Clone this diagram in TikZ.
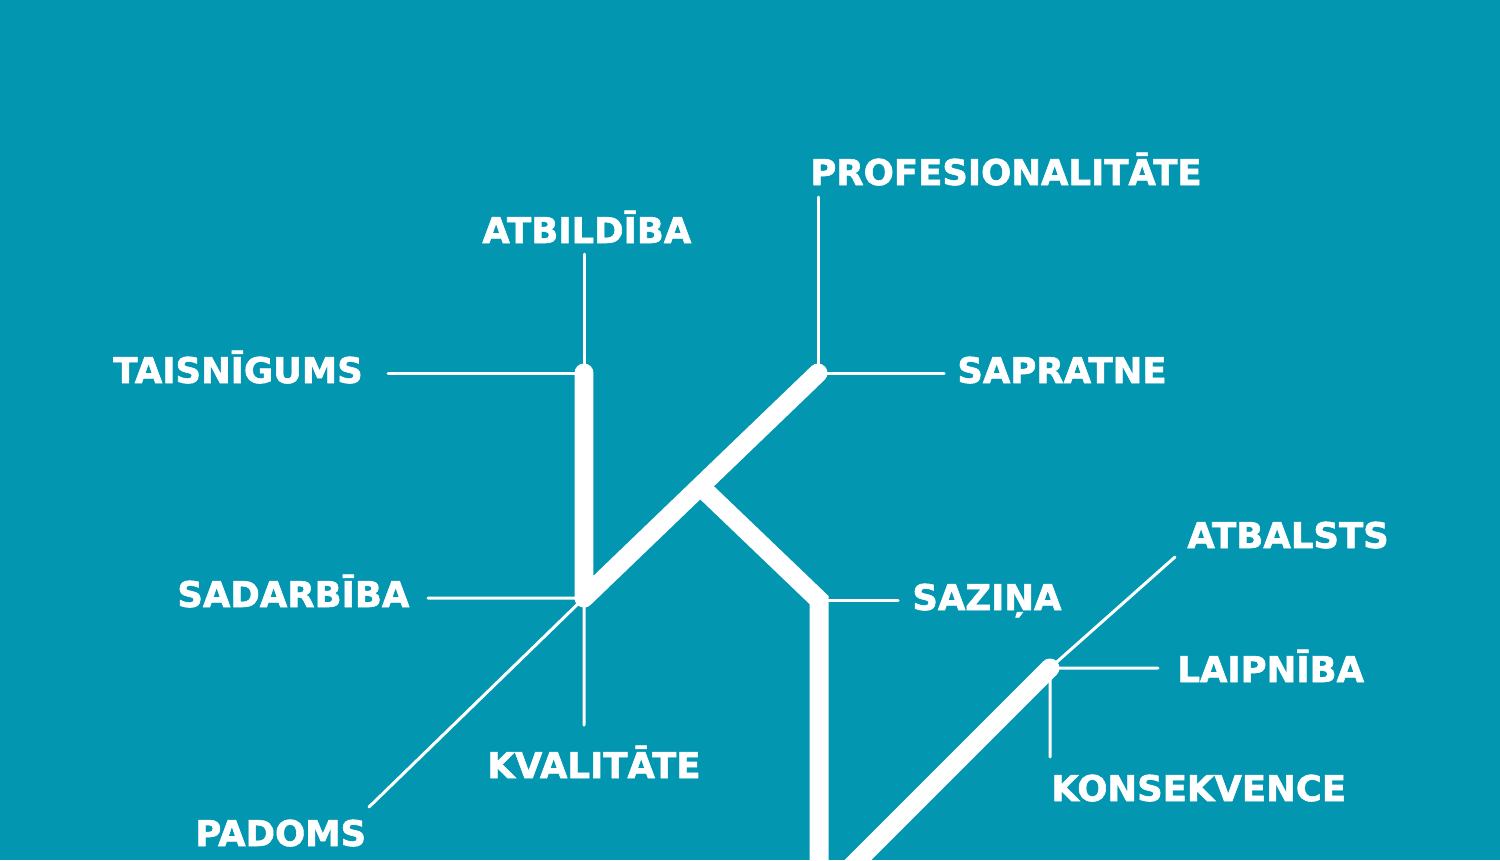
\documentclass[tikz,border=0pt]{standalone}
\usepackage{fontspec}
\setmainfont{DejaVu Sans}
\newfontfamily\lblfont{DejaVu Sans Bold}[FakeBold=1.6]
\usepackage{tikz}
\definecolor{teal}{HTML}{0396B1}
\tikzset{
  trunk/.style={white, line width=10.8pt, line cap=round, line join=round},
  twig/.style={white, line width=1.7pt, line cap=round},
  lbl/.style={anchor=base west, inner sep=0pt, text=white,
    font=\lblfont\fontsize{20.2pt}{24pt}\selectfont},
}

\begin{document}
\begin{tikzpicture}[x=0.02cm, y=-0.02cm]
    \fill[teal] (0,0) rectangle (1500,860);
    \useasboundingbox (0,0) rectangle (1500,860);
    \clip (0,0) rectangle (1500,860);
    % junctions
    \coordinate (kt) at (584,373);
    \coordinate (kb) at (584,598);
    \coordinate (kr) at (818,373);
    \coordinate (kf) at (700,486);
    \coordinate (vt) at (819,600);
    \coordinate (vb) at (819,899);
    \coordinate (vr) at (1050,668);
    % labels
    \node[lbl] (atbildiba) at (482,243) {ATBILDĪBA};
    \node[lbl] (profes) at (810,185) {PROFESIONALITĀTE};
    \node[lbl] (taisn) at (113,383) {TAISNĪGUMS};
    \node[lbl] (sapr) at (957,383) {SAPRATNE};
    \node[lbl] (sadarb) at (177,607) {SADARBĪBA};
    \node[lbl] (sazina) at (912,610) {SAZIŅA};
    \node[lbl] (atbalsts) at (1187,548) {ATBALSTS};
    \node[lbl] (laipn) at (1177,682) {LAIPNĪBA};
    \node[lbl] (kval) at (487,778) {KVALITĀTE};
    \node[lbl] (konsek) at (1051,801) {KONSEKVENCE};
    \node[lbl] (padoms) at (195,846) {PADOMS};
    % free ends of the thin lines
    \coordinate (e-atbildiba) at (584,254);
    \coordinate (e-profes) at (818,197);
    \coordinate (e-taisn) at (388,373);
    \coordinate (e-sapr) at (944,373);
    \coordinate (e-sadarb) at (428,598);
    \coordinate (e-sazina) at (898,600);
    \coordinate (e-atbalsts) at (1175,557);
    \coordinate (e-laipn) at (1158,668);
    \coordinate (e-kval) at (584,725);
    \coordinate (e-konsek) at (1050,757);
    \coordinate (e-padoms) at (369,807);
    \draw[twig] (kt) -- (e-atbildiba) (kt) -- (e-taisn);
    \draw[twig] (kr) -- (e-profes) (kr) -- (e-sapr);
    \draw[twig] (kb) -- (e-sadarb) (kb) -- (e-kval) (kb) -- (e-padoms);
    \draw[twig] (vt) -- (e-sazina);
    \draw[twig] (vr) -- (e-atbalsts) (vr) -- (e-laipn) (vr) -- (e-konsek);
    \draw[trunk] (kt) -- (kb) -- (kr);
    \draw[trunk, line cap=butt, line join=miter] (kf) -- (vt) -- (vb) -- (vr);
    \fill[white] (vr) circle (9.5);
  \end{tikzpicture}
\end{document}
